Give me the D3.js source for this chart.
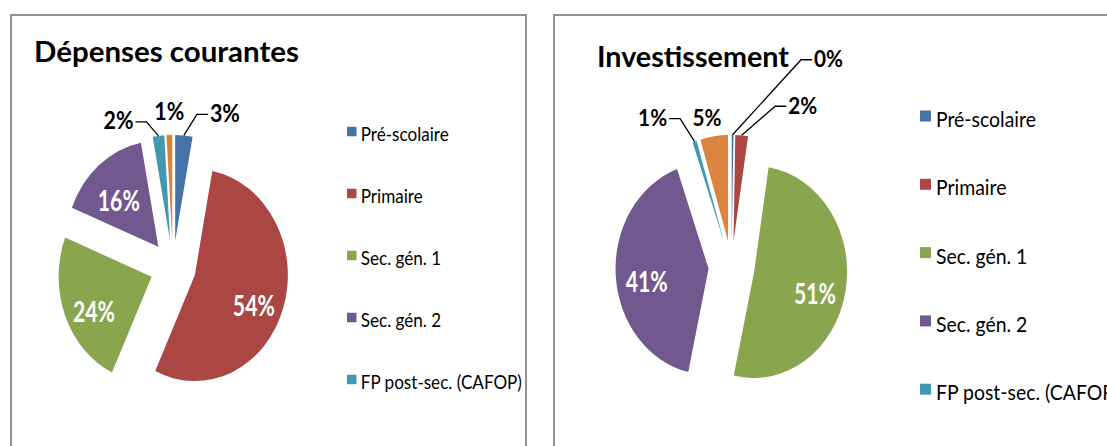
<!DOCTYPE html>
<html>
<head>
<meta charset="utf-8">
<script src="https://cdn.jsdelivr.net/npm/d3@7"></script>
<style>
  body { margin: 0; background: #fff; }
  text { font-family: Lato, "Open Sans", sans-serif; }
</style>
</head>
<body>
<svg id="chart" width="1107" height="446"></svg>
<script>
// categories (the legend only has room for the first five)
const categories = ["Pré-scolaire", "Primaire", "Sec. gén. 1", "Sec. gén. 2", "FP post-sec. (CAFOP)", "Supérieur"]
// shares in %
const courantesValues = [3, 54, 24, 16, 2, 1]
const investValues = [0.3, 2.2, 51, 41, 0.7, 4.8]
const titles = ["Dépenses courantes", "Investissement"]

const palette = ["#4572A7", "#AA4643", "#89A54E", "#71588F", "#4198AF", "#DB843D"]

const svg = d3.select("#chart")
const color = d3.scaleOrdinal().domain(categories).range(palette)
const pct = d3.format(".0%")
const legendCount = 5

// layout of each panel
const panels = [
    {
        title: titles[0], values: courantesValues,
        box: { x: 11, y: 15, w: 515 },
        cx: 173, cy: 267, r: 93, ky: 1.14, explode: 23,
        titleX: 34, titleY: 62, titleW: 265,
        legend: { x: 347, y: 141, step: 62, sq: 9.5, w: 88 },
        // outside labels: offset of label centre from slice edge
        outside: { 0: [41, -22, "left"], 4: [-40, -15, "right"], 5: [0, -23] },
        labelW: 30
    },
    {
        title: titles[1], values: investValues,
        box: { x: 554, y: 15, w: 600 },
        cx: 731.5, cy: 267, r: 93, ky: 1.14, explode: 23,
        titleX: 597, titleY: 67, titleW: 192,
        legend: { x: 920, y: 127, step: 68.3, sq: 11, w: 100 },
        outside: { 0: [96, -76, "left"], 1: [61, -30, "left"], 4: [-42, -24, "right"], 5: [-7, -19] },
        labelW: 29
    }
]

// make a text element a given width by adjusting its font size
function fitWidth(sel, target) {
    let size = parseFloat(sel.attr("font-size"))
    let w = sel.node().getComputedTextLength()
    sel.attr("font-size", size * target / w)
    return size * target / w
}

function drawPanel(p) {
    svg.append("rect")
        .attr("x", p.box.x).attr("y", p.box.y)
        .attr("width", p.box.w).attr("height", 480)
        .attr("fill", "#fff")
        .attr("stroke", "#878787")
        .attr("stroke-width", 1.8)

    let title = svg.append("text")
        .attr("x", p.titleX).attr("y", p.titleY)
        .attr("font-size", 27).attr("font-weight", "bold")
        .attr("fill", "#000")
        .text(p.title)
    fitWidth(title, p.titleW)

    let data = categories.map((c, i) => ({ cat: c, value: p.values[i] }))
    let arcs = d3.pie().sort(null).value(d => d.value)(data)
    let arc = d3.arc().innerRadius(0).outerRadius(p.r)

    // point on the (stretched) pie, page coords
    function pt(a, rad) {
        return [p.cx + rad * Math.sin(a), p.cy - p.ky * rad * Math.cos(a)]
    }

    let g = svg.append("g")
        .attr("transform", "translate(" + p.cx + "," + p.cy + ") scale(1," + p.ky + ")")

    g.selectAll("path")
        .data(arcs)
        .enter()
        .append("path")
        .attr("d", arc)
        .attr("transform", function (d) {
            let m = (d.startAngle + d.endAngle) / 2
            return "translate(" + (p.explode * Math.sin(m)) + "," + (-p.explode * Math.cos(m)) + ")"
        })
        .attr("fill", d => color(d.data.cat))

    // labels
    arcs.forEach(function (d, i) {
        let m = (d.startAngle + d.endAngle) / 2
        let txt = pct(d.data.value / 100)
        if (p.outside[i]) {
            let o = p.outside[i]
            let edge = pt(m, p.r + p.explode)
            let lx = edge[0] + o[0], ly = edge[1] + o[1]
            let t = svg.append("text")
                .attr("transform", "translate(" + lx + "," + ly + ") scale(1,1.12)")
                .attr("dy", "0.36em")
                .attr("text-anchor", "middle")
                .attr("font-size", 19).attr("font-weight", "bold")
                .attr("fill", "#000")
                .text(txt)
            fitWidth(t, p.labelW)
            let hw = p.labelW / 2
            if (o[2]) {
                let sx = o[2] == "left" ? lx - hw - 2 : lx + hw + 2
                let ex = o[2] == "left" ? sx - 11 : sx + 11
                svg.append("path")
                    .attr("d", "M" + sx + "," + (ly + 1) + "H" + ex + "L" + edge[0] + "," + edge[1])
                    .attr("fill", "none")
                    .attr("stroke", "#000")
                    .attr("stroke-width", 1.3)
            }
        } else {
            let c = pt(m, p.explode + 62)
            let t = svg.append("text")
                .attr("transform", "translate(" + c[0] + "," + (c[1] + 9) + ") scale(1,1.3)")
                .attr("dy", "0.36em")
                .attr("text-anchor", "middle")
                .attr("font-size", 20).attr("font-weight", "bold")
                .attr("fill", "#fff")
                .text(txt)
            fitWidth(t, 42)
        }
    })

    // legend
    let lg = p.legend
    let size = 15
    let items = svg.append("g").selectAll("g")
        .data(categories.slice(0, legendCount))
        .enter()
        .append("g")
        .attr("transform", (d, i) => "translate(" + lg.x + "," + (lg.y + i * lg.step) + ")")
    items.append("rect")
        .attr("x", 0).attr("y", -lg.sq * 1.5)
        .attr("width", lg.sq).attr("height", lg.sq)
        .attr("fill", d => color(d))
    let labels = items.append("text")
        .attr("x", lg.sq * 1.45).attr("y", 0)
        .attr("transform", "scale(1,1.08)")
        .attr("font-size", size)
        .attr("fill", "#000")
        .text(d => d)
    size = fitWidth(d3.select(labels.nodes()[0]), lg.w)
    labels.attr("font-size", size)
}

panels.forEach(drawPanel)
</script>
</body>
</html>
